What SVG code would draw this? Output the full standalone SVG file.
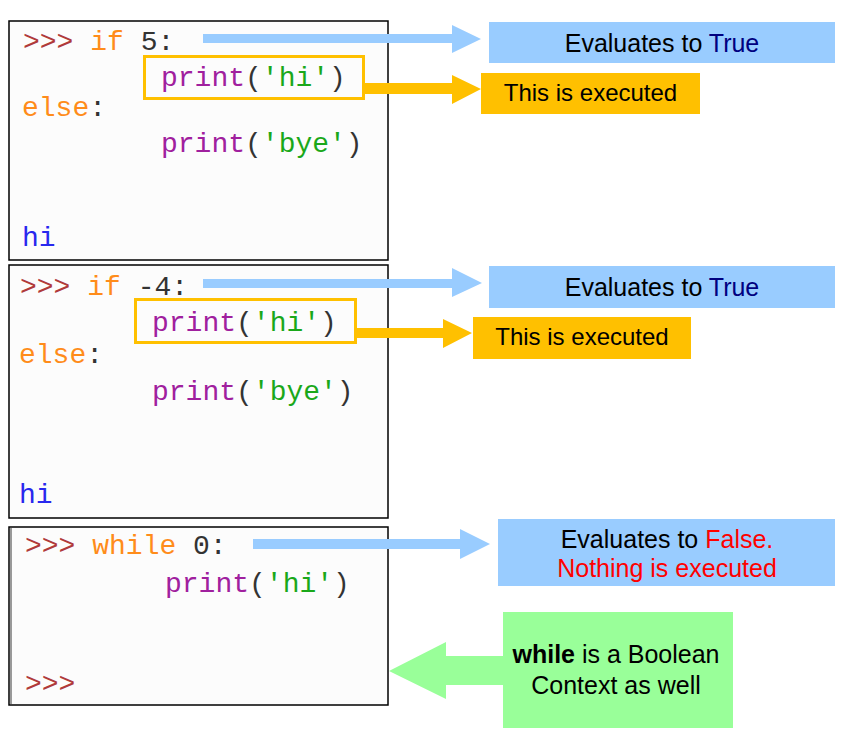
<svg xmlns="http://www.w3.org/2000/svg" width="854" height="742" viewBox="0 0 854 742">
<style>
.panel{fill:#fcfcfc;stroke:#000;stroke-width:1.5}
.code{font-family:"Liberation Mono","Courier New",monospace;font-size:28px;fill:#333}
.pr{fill:#b03a3a}
.kw{fill:#ff8c1a}
.fn{fill:#a0209e}
.st{fill:#1aa81a}
.out{fill:#2828ee}
.hl{fill:none;stroke:#ffc000;stroke-width:3}
.blue{fill:#99ccff}
.orange{fill:#ffc000}
.green{fill:#99ff99}
.lbl{font-family:"Liberation Sans",Arial,sans-serif;font-size:25px;fill:#000;text-anchor:middle}
.lbl2{font-family:"Liberation Sans",Arial,sans-serif;font-size:24px;fill:#000;text-anchor:middle}
.red{fill:#ff0000}
.navy{fill:#000080}
</style>
<rect width="854" height="742" fill="#fff"/>

<g id="panel1">
<rect class="panel" x="9" y="21" width="379" height="239"/>
<text class="code" y="50"><tspan x="23" class="pr">&gt;&gt;&gt;</tspan> <tspan class="kw">if</tspan> 5:</text>
<text class="code" x="161" y="86"><tspan class="fn">print</tspan>(<tspan class="st">'hi'</tspan>)</text>
<text class="code" x="22" y="116"><tspan class="kw">else</tspan>:</text>
<text class="code" x="161" y="152"><tspan class="fn">print</tspan>(<tspan class="st">'bye'</tspan>)</text>
<text class="code out" x="22" y="246">hi</text>
<rect class="hl" x="144.5" y="56.5" width="219" height="42"/>
</g>

<g id="panel2">
<rect class="panel" x="9" y="265" width="379" height="253"/>
<text class="code" y="295"><tspan x="20" class="pr">&gt;&gt;&gt;</tspan> <tspan class="kw">if</tspan> -4:</text>
<text class="code" x="152" y="331"><tspan class="fn">print</tspan>(<tspan class="st">'hi'</tspan>)</text>
<text class="code" x="19" y="363"><tspan class="kw">else</tspan>:</text>
<text class="code" x="152" y="400"><tspan class="fn">print</tspan>(<tspan class="st">'bye'</tspan>)</text>
<text class="code out" x="19" y="503">hi</text>
<rect class="hl" x="135.5" y="299.5" width="220" height="43"/>
</g>

<g id="panel3">
<rect class="panel" x="9" y="527" width="379" height="178"/>
<line x1="11" y1="528" x2="11" y2="704" stroke="#999" stroke-width="2"/>
<text class="code" y="554"><tspan x="25" class="pr">&gt;&gt;&gt;</tspan> <tspan class="kw">while</tspan> 0:</text>
<text class="code" x="165" y="592"><tspan class="fn">print</tspan>(<tspan class="st">'hi'</tspan>)</text>
<text class="code pr" x="25" y="692">&gt;&gt;&gt;</text>
</g>

<g id="connectors">
<polygon class="blue" points="203,34 452,34 452,25 481,39 452,53 452,43 203,43"/>
<polygon class="orange" points="364,83 452,83 452,75 481,89 452,104 452,94 364,94"/>
<polygon class="blue" points="203,279 452,279 452,268 482,283 452,297 452,288 203,288"/>
<polygon class="orange" points="357,328 443,328 443,319 472,333 443,348 443,338 357,338"/>
<polygon class="blue" points="253,539 460,539 460,529 490,544 460,559 460,549 253,549"/>
<polygon class="green" points="503,656 446,656 446,642 389,671 446,699 446,685 503,685"/>
</g>

<g id="label-true1">
<rect class="blue" x="489" y="22" width="346" height="41"/>
<text class="lbl" x="662" y="52">Evaluates to <tspan class="navy">True</tspan></text>
</g>
<g id="label-exec1">
<rect class="orange" x="481" y="73" width="219" height="41"/>
<text class="lbl2" x="590.5" y="101">This is executed</text>
</g>
<g id="label-true2">
<rect class="blue" x="489" y="266" width="346" height="42"/>
<text class="lbl" x="662" y="296">Evaluates to <tspan class="navy">True</tspan></text>
</g>
<g id="label-exec2">
<rect class="orange" x="473" y="317" width="218" height="42"/>
<text class="lbl2" x="582" y="345">This is executed</text>
</g>
<g id="label-false">
<rect class="blue" x="498" y="519" width="337" height="67"/>
<text class="lbl" x="667" y="548">Evaluates to <tspan class="red">False.</tspan></text>
<text class="lbl red" x="667" y="577">Nothing is executed</text>
</g>
<g id="label-while">
<rect class="green" x="503" y="612" width="230" height="116"/>
<text class="lbl" x="616" y="663"><tspan font-weight="bold">while</tspan> is a Boolean</text>
<text class="lbl" x="616" y="694">Context as well</text>
</g>
</svg>
